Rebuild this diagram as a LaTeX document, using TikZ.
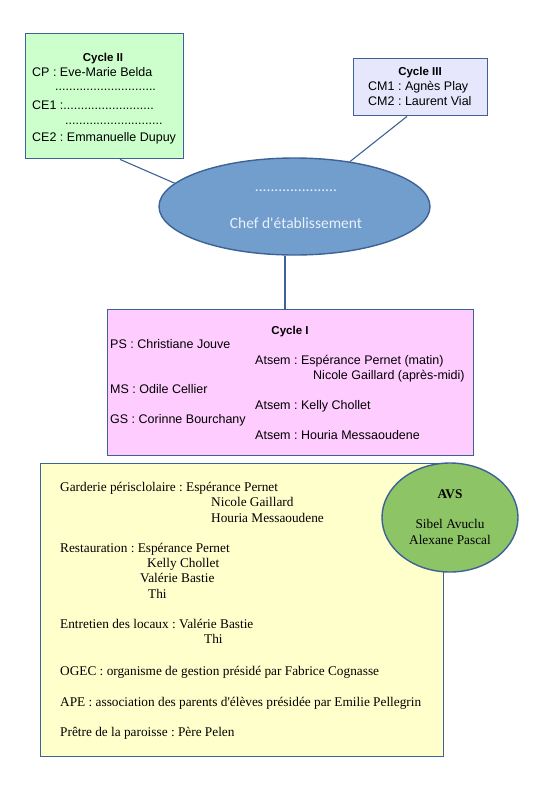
\documentclass[tikz,border=0pt]{standalone}
\usepackage{fontspec}
\usepackage{tikz}
\usetikzlibrary{shapes.geometric,calc}
\newfontfamily\arialfont{Liberation Sans}
\newfontfamily\timesfont{Liberation Serif}
\newfontfamily\calibrifont{Carlito}
\definecolor{edgeblue}{RGB}{60,98,150}
\definecolor{cyclegreen}{RGB}{204,255,204}
\definecolor{cyclelilac}{RGB}{230,230,252}
\definecolor{chefblue}{RGB}{114,158,206}
\definecolor{cyclepink}{RGB}{255,204,255}
\definecolor{infoyellow}{RGB}{255,255,204}
\definecolor{avsgreen}{RGB}{140,196,102}
\definecolor{cheftext}{RGB}{232,240,250}
\frenchspacing

\begin{document}
\begin{tikzpicture}[x=1pt,y=-1pt,
    box/.style={draw=edgeblue,line width=1.4pt,inner sep=0pt},
    link/.style={edgeblue,line width=1.1pt},
    ctxt/.style={anchor=base west,inner sep=0pt,font=\arialfont\fontsize{12.5}{14}\selectfont},
    ctitle/.style={anchor=base,inner sep=0pt,font=\arialfont\bfseries\fontsize{11.5}{14}\selectfont},
    ytxt/.style={anchor=base west,inner sep=0pt,font=\timesfont\fontsize{13.3}{15}\selectfont}]
    \useasboundingbox (0,0) rectangle (559,793);

    % Boxes
    \node[box,fill=cyclegreen,minimum width=158,minimum height=125,anchor=north west] (cycleII) at (25,33) {};
    \node[box,fill=cyclelilac,minimum width=134,minimum height=57,anchor=north west] (cycleIII) at (353,58) {};
    \node[box,ellipse,fill=chefblue,minimum width=271,minimum height=97] (chef) at (294.5,206.5) {};
    \node[box,fill=cyclepink,minimum width=366,minimum height=146,anchor=north west] (cycleI) at (107,309) {};
    \node[box,fill=infoyellow,minimum width=403,minimum height=293,anchor=north west] (info) at (40,463) {};
    \node[box,ellipse,fill=avsgreen,minimum width=136,minimum height=109] (avs) at (450,517.5) {};

    % Links
    \draw[link] ($(cycleII.south west)+(95,0)$) -- (chef.169);
    \draw[link] ($(cycleIII.south west)+(54,0)$) -- (chef.39);
    \draw[link] (chef.259) -- (chef.259 |- cycleI.north);

    % Cycle II
    \node[ctitle] (tII) at (103,61) {Cycle II};
    \foreach \x/\y/\t [count=\i] in {32/76/{CP : Eve-Marie Belda},
        55/90/{.............................},
        32/109/{CE1 :..........................},
        65/124/{............................},
        32/141/{CE2 : Emmanuelle Dupuy}}
        \node[ctxt] (lII\i) at (\x,\y) {\t};

    % Cycle III
    \node[ctitle] (tIII) at (420,75) {Cycle III};
    \node[ctxt] (lIII1) at (368,90) {CM1 : Agnès Play};
    \node[ctxt] (lIII2) at (368,105) {CM2 : Laurent Vial};

    % Chef
    \node[inner sep=0pt,text=cheftext,font=\calibrifont\fontsize{15.5}{18}\selectfont] (chefdots) at (296,191) {.....................};
    \node[inner sep=0pt,anchor=base,text=cheftext,font=\calibrifont\fontsize{15.5}{18}\selectfont] (cheflbl) at (296,228) {Chef d'établissement};

    % Cycle I
    \node[ctitle] (tI) at (290,334) {Cycle I};
    \foreach \x/\y/\t [count=\i] in {110/348/{PS : Christiane Jouve},
        255/364/{Atsem : Espérance Pernet (matin)},
        313/379/{Nicole Gaillard (après-midi)},
        110/393/{MS : Odile Cellier},
        255/409/{Atsem : Kelly Chollet},
        110/423/{GS : Corinne Bourchany},
        255/439/{Atsem : Houria Messaoudene}}
        \node[ctxt] (lI\i) at (\x,\y) {\t};

    % Services
    \foreach \x/\y/\t [count=\i] in {60/491/{Garderie périsclolaire : Espérance Pernet},
        211/506/{Nicole Gaillard},
        211/522/{Houria Messaoudene},
        60/552/{Restauration : Espérance Pernet},
        147/567/{Kelly Chollet},
        140/582/{Valérie Bastie},
        148/598/{Thi},
        60/628/{Entretien des locaux : Valérie Bastie},
        204/643/{Thi},
        60/675/{OGEC : organisme de gestion présidé par Fabrice Cognasse},
        60/706/{APE : association des parents d'élèves présidée par Emilie Pellegrin},
        60/736/{Prêtre de la paroisse : Père Pelen}}
        \node[ytxt] (ls\i) at (\x,\y) {\t};

    % AVS
    \node[ytxt,anchor=base,font=\timesfont\bfseries\fontsize{13.3}{15}\selectfont] (tavs) at (450,498) {AVS};
    \node[ytxt,anchor=base] (avs1) at (450,528) {Sibel Avuclu};
    \node[ytxt,anchor=base] (avs2) at (450,544) {Alexane Pascal};
\end{tikzpicture}
\end{document}
